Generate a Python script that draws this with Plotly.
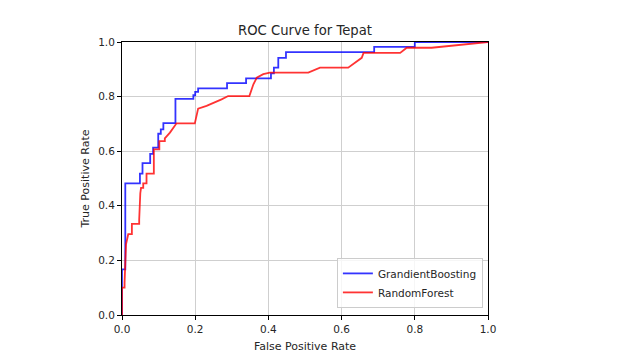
import plotly.graph_objects as go

# GradientBoosting ROC points (FPR, TPR)
gb_fpr = [0.0, 0.0, 0.009, 0.009, 0.049, 0.049, 0.056, 0.056, 0.077, 0.077, 0.085, 0.085,
          0.099, 0.099, 0.106, 0.106, 0.113, 0.113, 0.146, 0.146, 0.195, 0.195, 0.2, 0.2,
          0.208, 0.208, 0.287, 0.287, 0.339, 0.339, 0.407, 0.407, 0.415, 0.415, 0.427, 0.427,
          0.448, 0.448, 0.689, 0.689, 0.8, 0.8, 1.0]
gb_tpr = [0.0, 0.167, 0.167, 0.482, 0.482, 0.518, 0.518, 0.556, 0.556, 0.59, 0.59, 0.613,
          0.613, 0.664, 0.664, 0.68, 0.68, 0.703, 0.703, 0.792, 0.792, 0.805, 0.805, 0.817,
          0.817, 0.83, 0.83, 0.849, 0.849, 0.867, 0.867, 0.885, 0.885, 0.906, 0.906, 0.942,
          0.942, 0.963, 0.963, 0.982, 0.982, 1.0, 1.0]

# RandomForest ROC points (FPR, TPR)
rf_fpr = [0.0, 0.0, 0.007, 0.007, 0.011, 0.017, 0.027, 0.027, 0.047, 0.047, 0.05, 0.052,
          0.058, 0.058, 0.067, 0.067, 0.087, 0.087, 0.102, 0.102, 0.117, 0.117, 0.131, 0.14,
          0.149, 0.199, 0.208, 0.231, 0.254, 0.272, 0.29, 0.348, 0.359, 0.368, 0.386, 0.404,
          0.509, 0.541, 0.618, 0.655, 0.66, 0.76, 0.778, 0.846, 1.0]
rf_tpr = [0.0, 0.1, 0.1, 0.118, 0.259, 0.296, 0.296, 0.334, 0.334, 0.35, 0.446, 0.466,
          0.466, 0.482, 0.482, 0.518, 0.518, 0.607, 0.607, 0.637, 0.637, 0.647, 0.668, 0.686,
          0.702, 0.702, 0.756, 0.766, 0.778, 0.79, 0.802, 0.802, 0.845, 0.869, 0.882, 0.888,
          0.888, 0.906, 0.906, 0.942, 0.96, 0.96, 0.979, 0.979, 1.0]

tick_vals = [0.0, 0.2, 0.4, 0.6, 0.8, 1.0]
tick_text = ["0.0", "0.2", "0.4", "0.6", "0.8", "1.0"]

fig = go.Figure()
fig.add_trace(go.Scatter(x=gb_fpr, y=gb_tpr, mode="lines", name="GrandientBoosting",
                         line=dict(color="rgba(0,0,255,0.8)", width=1.8)))
fig.add_trace(go.Scatter(x=rf_fpr, y=rf_tpr, mode="lines", name="RandomForest",
                         line=dict(color="rgba(255,0,0,0.8)", width=1.8)))

axis_common = dict(
    range=[0, 1], tickvals=tick_vals, ticktext=tick_text,
    showgrid=True, gridcolor="#cfcfcf", gridwidth=1,
    showline=True, linecolor="black", linewidth=1, mirror=True,
    ticks="outside", ticklen=4, tickcolor="black", automargin=False,
    zeroline=False, tickfont=dict(size=10.5, color="#262626"),
)

W, H = 616, 345
fig.update_layout(
    width=W, height=H,
    margin=dict(l=114, r=136, t=34, b=38),
    paper_bgcolor="white", plot_bgcolor="white",
    font=dict(family="DejaVu Sans", color="#262626", size=11),
    title=dict(text="ROC Curve for Tepat", x=297 / W, xanchor="center",
               y=1 - 22 / H, yanchor="middle", font=dict(size=13.2, color="#262626")),
    xaxis=dict(axis_common, title=dict(text="False Positive Rate", standoff=8,
                                         font=dict(size=11))),
    yaxis=dict(axis_common, title=dict(text="True Positive Rate", standoff=6,
                                         font=dict(size=11))),
    legend=dict(x=0.986, y=0.026, xanchor="right", yanchor="bottom",
                bordercolor="#cccccc", borderwidth=1, bgcolor="rgba(255,255,255,0.8)",
                itemwidth=30, font=dict(size=10.5, color="#262626")),
    showlegend=True,
)

fig.write_html("out.html")
